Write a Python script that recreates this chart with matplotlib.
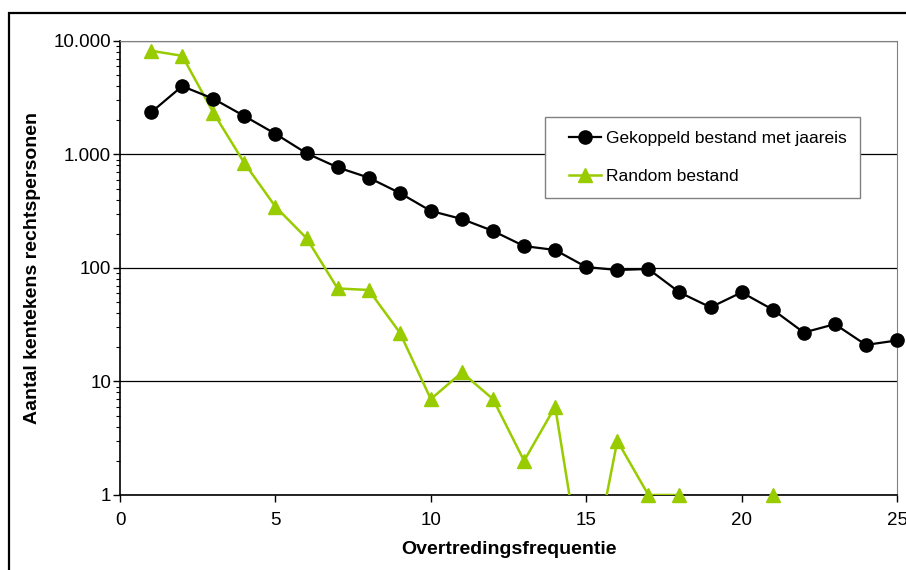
import numpy as np
import matplotlib.pyplot as plt
from matplotlib.patches import Rectangle
from matplotlib.lines import Line2D
from matplotlib.legend_handler import HandlerLine2D
from matplotlib.ticker import FixedLocator, LogLocator, NullFormatter

plt.rcParams['font.family'] = ['Liberation Sans', 'DejaVu Sans']

# data
freq_gek = np.arange(1, 26)
gekoppeld = [2350, 4000, 3100, 2180, 1520, 1025, 770, 625, 458, 318, 270, 212,
             156, 144, 102, 96, 98, 61, 45, 61, 43, 27, 32, 21, 23]
freq_rnd = np.arange(1, 22)
random_b = [8200, 7400, 2340, 840, 347, 183, 66, 64, 27, 7, 12, 7,
            2, 6, 0, 3, 1, 1, 0, 0, 1]
ytick_vals = [1, 10, 100, 1000, 10000]
ytick_labels = ['1', '10', '100', '1.000', '10.000']
xtick_vals = [0, 5, 10, 15, 20, 25]

green = '#99CC00'
# nullen op log-as: onder de as tekenen (zoals Excel)
rnd_plot = np.where(np.array(random_b) > 0, random_b, 0.12)

fig = plt.figure(figsize=(9.06, 5.70), dpi=100)
ax = fig.add_axes([0.1325, 0.1316, 0.8576, 0.7965])

ax.plot(freq_gek, gekoppeld, color='black', lw=1.6, marker='o', ms=9.5,
        label='Gekoppeld bestand met jaareis', zorder=4, clip_on=False)
ax.plot(freq_rnd, rnd_plot, color=green, lw=1.8, zorder=3)
pos = np.array(random_b) > 0
ax.plot(freq_rnd[pos], np.array(random_b)[pos], ls='none', color=green,
        marker='^', ms=9.5, zorder=3, clip_on=False)
ax.plot([], [], color=green, lw=1.8, marker='^', ms=9.5, label='Random bestand')

ax.set_yscale('log')
ax.set_ylim(1, 10000)
ax.set_xlim(0, 25)
ax.yaxis.set_major_locator(FixedLocator(ytick_vals))
ax.set_yticklabels(ytick_labels)
ax.yaxis.set_minor_locator(LogLocator(base=10, subs=np.arange(2, 10)))
ax.yaxis.set_minor_formatter(NullFormatter())
ax.set_xticks(xtick_vals)
ax.tick_params(axis='both', which='major', direction='out', length=5,
               width=1, labelsize=13.5, color='black')
ax.tick_params(axis='y', which='minor', direction='out', length=3, width=0.8)
ax.tick_params(axis='x', pad=7)
ax.tick_params(axis='y', pad=1.5)
ax.grid(True, axis='y', which='major', color='black', lw=0.9)
ax.set_axisbelow(True)

ax.spines['left'].set_color('black')
ax.spines['bottom'].set_color('black')
ax.spines['left'].set_linewidth(1.2)
ax.spines['bottom'].set_linewidth(1.2)
ax.spines['top'].set_color('#808080')
ax.spines['right'].set_color('#808080')

ax.set_xlabel('Overtredingsfrequentie', fontsize=14, fontweight='bold', labelpad=9)
ax.set_ylabel('Aantal kentekens rechtspersonen', fontsize=14, fontweight='bold', labelpad=9)

leg = ax.legend(loc='upper left', bbox_to_anchor=(0.547, 0.833), fontsize=12.5,
                frameon=True, fancybox=False, edgecolor='#808080', framealpha=1,
                handlelength=2.4, handletextpad=0.3, labelspacing=1.35,
                borderpad=0.8, borderaxespad=0,
                handler_map={Line2D: HandlerLine2D(xpad=0.6)})
leg.get_frame().set_linewidth(1.0)

# kader rond de figuur (rechts/onder afgesneden)
fig.patches.append(Rectangle((8.5 / 906, -0.1), 1.2, 1 - 13.5 / 570 + 0.1,
                             transform=fig.transFigure, fill=False,
                             edgecolor='black', lw=1.6))

plt.savefig('out.png', dpi=100)
